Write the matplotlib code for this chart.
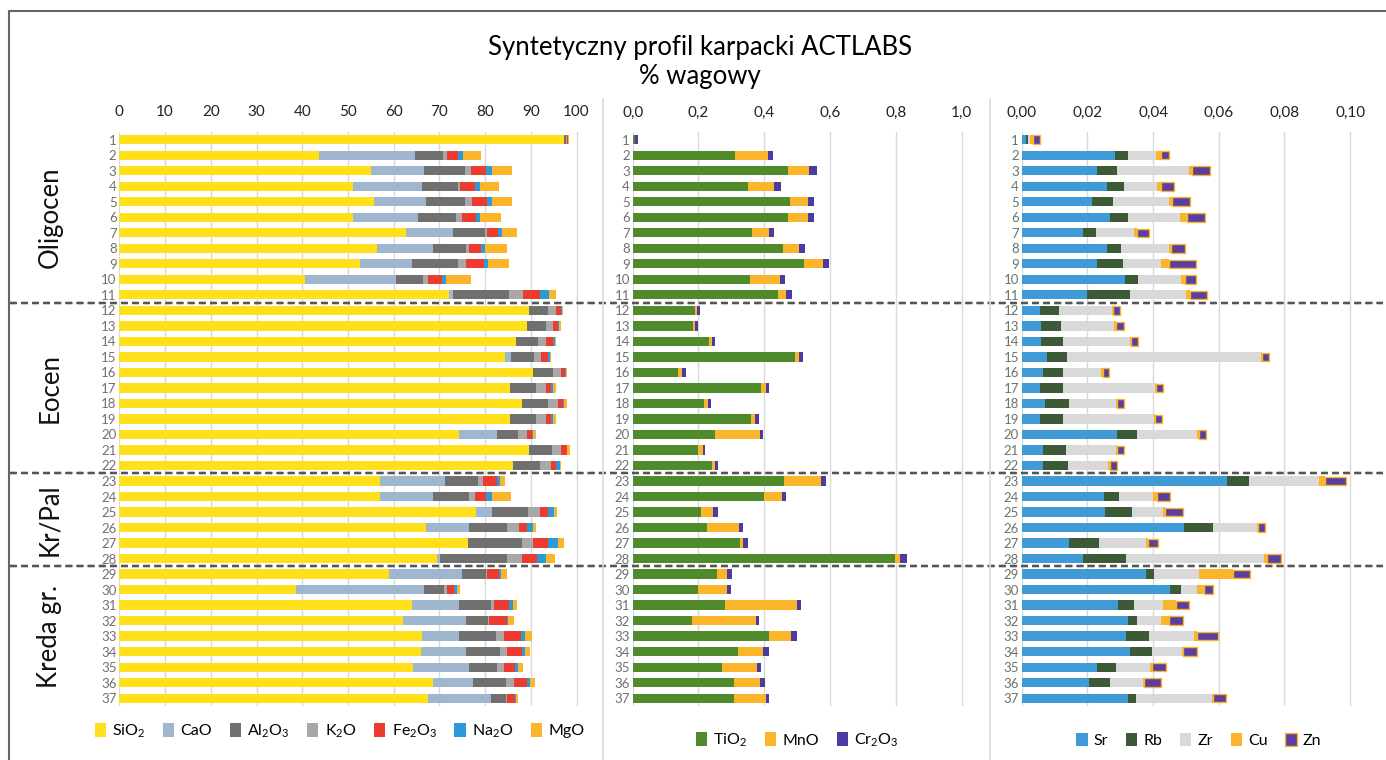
import matplotlib
matplotlib.use("Agg")
import matplotlib.pyplot as plt
import numpy as np
from matplotlib.lines import Line2D
from matplotlib.patches import Patch
from matplotlib.transforms import blended_transform_factory

plt.rcParams["font.family"] = ["Lato", "DejaVu Sans"]
plt.rcParams["mathtext.default"] = "regular"

samples = [str(i) for i in range(1, 38)]

# main oxides, %
SiO2 = [97.2, 43.7, 55.0, 51.2, 55.7, 51.2, 62.8, 56.3, 52.6, 40.7, 72.0, 89.7, 89.2, 86.7, 84.3, 90.5, 85.4, 88.0, 85.4,
        74.2, 89.6, 86.0, 57.0, 57.1, 78.1, 67.1, 76.3, 69.5, 58.9, 38.6, 64.1, 62.1, 66.3, 65.9, 64.3, 68.7, 67.6]
CaO = [0.0, 20.9, 11.7, 15.0, 11.3, 14.2, 10.2, 12.4, 11.3, 19.9, 1.0, 0.0, 0.0, 0.0, 1.3, 0.0, 0.0, 0.0, 0.0,
       8.5, 0.0, 0.0, 14.2, 11.6, 3.3, 9.4, 0.0, 0.6, 16.0, 28.1, 10.2, 13.8, 8.0, 10.0, 12.2, 8.6, 13.6]
Al2O3 = [0.5, 6.2, 9.0, 7.8, 8.7, 8.2, 7.0, 7.1, 10.2, 5.9, 12.3, 4.1, 4.2, 4.8, 5.1, 4.3, 5.8, 5.8, 5.7,
         4.5, 5.1, 6.0, 7.3, 7.8, 8.0, 8.3, 11.7, 14.7, 5.3, 4.3, 6.9, 4.8, 8.1, 7.3, 6.2, 7.2, 3.3]
K2O = [0.2, 0.9, 1.1, 0.6, 1.4, 1.3, 0.3, 0.7, 1.7, 1.1, 2.9, 1.7, 1.5, 1.9, 1.6, 1.7, 2.1, 2.2, 2.2,
       1.9, 2.0, 2.5, 1.1, 1.3, 2.6, 2.7, 2.4, 3.2, 0.3, 0.7, 0.7, 0.2, 1.8, 1.6, 1.5, 1.9, 0.2]
Fe2O3 = [0.3, 2.4, 3.4, 3.1, 3.2, 3.0, 2.6, 2.5, 3.9, 3.0, 3.8, 1.0, 1.1, 1.5, 1.5, 0.9, 1.2, 1.1, 1.2,
         1.2, 1.1, 1.0, 2.9, 2.4, 1.8, 1.7, 3.4, 3.3, 2.6, 1.6, 3.4, 3.9, 3.6, 3.2, 2.3, 2.7, 1.8]
Na2O = [0.0, 1.0, 1.2, 1.2, 1.1, 1.0, 0.8, 1.0, 1.0, 0.8, 1.9, 0.3, 0.2, 0.3, 0.3, 0.2, 0.3, 0.2, 0.3,
        0.2, 0.2, 0.9, 0.7, 1.2, 1.2, 1.2, 2.2, 2.1, 0.4, 0.5, 0.7, 0.3, 0.9, 0.7, 0.7, 0.7, 0.2]
MgO = [0.2, 3.9, 4.5, 4.2, 4.5, 4.5, 3.3, 4.7, 4.6, 5.6, 1.7, 0.3, 0.4, 0.4, 0.2, 0.4, 0.7, 0.7, 0.7,
       0.6, 0.5, 0.3, 1.1, 4.2, 0.8, 0.7, 1.3, 1.9, 1.2, 0.8, 0.9, 1.2, 1.5, 1.1, 1.0, 1.1, 0.5]

# minor oxides, %
TiO2 = [0.006, 0.311, 0.473, 0.352, 0.478, 0.473, 0.362, 0.456, 0.521, 0.357, 0.443, 0.189, 0.182, 0.233, 0.493,
        0.139, 0.390, 0.217, 0.359, 0.250, 0.200, 0.240, 0.460, 0.399, 0.207, 0.225, 0.326, 0.797, 0.257, 0.197,
        0.281, 0.179, 0.415, 0.321, 0.271, 0.308, 0.308]
MnO = [0.002, 0.101, 0.064, 0.079, 0.056, 0.061, 0.052, 0.051, 0.057, 0.091, 0.022, 0.007, 0.007, 0.008, 0.012,
       0.012, 0.014, 0.013, 0.014, 0.137, 0.013, 0.011, 0.111, 0.054, 0.038, 0.098, 0.010, 0.016, 0.031, 0.089,
       0.220, 0.196, 0.067, 0.076, 0.106, 0.079, 0.096]
Cr2O3 = [0.009, 0.016, 0.022, 0.019, 0.017, 0.017, 0.017, 0.017, 0.018, 0.016, 0.018, 0.010, 0.011, 0.009, 0.013,
         0.010, 0.010, 0.008, 0.010, 0.010, 0.008, 0.009, 0.017, 0.013, 0.015, 0.013, 0.013, 0.020, 0.014, 0.013,
         0.012, 0.009, 0.016, 0.016, 0.012, 0.014, 0.010]

# trace elements, %
Sr = [0.0013, 0.0284, 0.0228, 0.0261, 0.0213, 0.0269, 0.0188, 0.0261, 0.0228, 0.0315, 0.0198, 0.0056, 0.0059,
      0.0059, 0.0078, 0.0066, 0.0056, 0.0071, 0.0056, 0.0289, 0.0064, 0.0066, 0.0624, 0.0249, 0.0254, 0.0495,
      0.0145, 0.0186, 0.0379, 0.0452, 0.0294, 0.0325, 0.0318, 0.0330, 0.0228, 0.0206, 0.0325]
Rb = [0.0007, 0.0039, 0.0063, 0.0049, 0.0064, 0.0054, 0.0038, 0.0042, 0.0080, 0.0038, 0.0132, 0.0058, 0.0061,
      0.0066, 0.0059, 0.0059, 0.0069, 0.0074, 0.0069, 0.0061, 0.0071, 0.0076, 0.0068, 0.0048, 0.0081, 0.0086,
      0.0089, 0.0132, 0.0025, 0.0033, 0.0048, 0.0025, 0.0071, 0.0066, 0.0058, 0.0063, 0.0023]
Zr = [0.0005, 0.0086, 0.0217, 0.0101, 0.0170, 0.0159, 0.0116, 0.0146, 0.0116, 0.0132, 0.0171, 0.0160, 0.0162,
      0.0205, 0.0591, 0.0117, 0.0281, 0.0141, 0.0278, 0.0185, 0.0151, 0.0122, 0.0212, 0.0104, 0.0096, 0.0135,
      0.0145, 0.0420, 0.0137, 0.0050, 0.0087, 0.0073, 0.0137, 0.0091, 0.0105, 0.0100, 0.0231]
Cu = [0.0008, 0.0014, 0.0010, 0.0012, 0.0010, 0.0021, 0.0010, 0.0005, 0.0023, 0.0012, 0.0010, 0.0005, 0.0004,
      0.0004, 0.0003, 0.0004, 0.0004, 0.0003, 0.0004, 0.0004, 0.0004, 0.0004, 0.0020, 0.0010, 0.0006, 0.0004,
      0.0004, 0.0010, 0.0102, 0.0021, 0.0041, 0.0026, 0.0007, 0.0005, 0.0005, 0.0004, 0.0005]
Zn = [0.0022, 0.0024, 0.0054, 0.0042, 0.0054, 0.0055, 0.0035, 0.0043, 0.0083, 0.0034, 0.0052, 0.0020, 0.0024,
      0.0020, 0.0021, 0.0020, 0.0021, 0.0023, 0.0021, 0.0021, 0.0022, 0.0021, 0.0064, 0.0041, 0.0053, 0.0021,
      0.0033, 0.0042, 0.0052, 0.0026, 0.0038, 0.0043, 0.0064, 0.0041, 0.0044, 0.0050, 0.0039]

groups = ["Oligocen", "Eocen", "Kr/Pal", "Kreda gr."]
group_bounds = [(1, 11), (12, 22), (23, 28), (29, 37)]

orange = "#fbb52a"
panels = [
    dict(series=[("SiO$_2$", SiO2, "#ffe01a"), ("CaO", CaO, "#9fb6cf"), ("Al$_2$O$_3$", Al2O3, "#707070"),
                 ("K$_2$O", K2O, "#a8a8a8"), ("Fe$_2$O$_3$", Fe2O3, "#ee3b2f"), ("Na$_2$O", Na2O, "#2b9ad6"),
                 ("MgO", MgO, orange)],
         rect=[0.0861, 0.0711, 0.3464, 0.7553], xlim=105, ticks=np.arange(0, 101, 10), fmt="{:.0f}",
         leg=(0.245, 0.038)),
    dict(series=[("TiO$_2$", TiO2, "#4f8a2b"), ("MnO", MnO, orange), ("Cr$_2$O$_3$", Cr2O3, "#4c3ba0")],
         rect=[0.4565, 0.0711, 0.2563, 0.7553], xlim=1.08, ticks=np.arange(0, 1.01, 0.2), fmt="{:.1f}",
         leg=(0.575, 0.026)),
    dict(series=[("Sr", Sr, "#3e9bd6"), ("Rb", Rb, "#3d5a36"), ("Zr", Zr, "#d9d9d9"), ("Cu", Cu, orange),
                 ("Zn", Zn, "#5a3fa0")],
         rect=[0.7372, 0.0711, 0.2582, 0.7553], xlim=0.109, ticks=np.arange(0, 0.101, 0.02), fmt="{:.2f}",
         leg=(0.865, 0.026)),
]

fig = plt.figure(figsize=(13.86, 7.6), dpi=100)

y = np.arange(1, 38)
for p in panels:
    ax = fig.add_axes(p["rect"])
    left = np.zeros(37)
    handles = []
    for name, vals, col in p["series"]:
        if name == "Zn":
            ax.barh(y, vals, left=left, height=0.55, color=col, edgecolor=orange, linewidth=1.0)
            handles.append(Patch(facecolor=col, edgecolor=orange, linewidth=1.0, label=name))
        else:
            ax.barh(y, vals, left=left, height=0.6, color=col, linewidth=0)
            handles.append(Patch(facecolor=col, label=name))
        left += np.array(vals)
    ax.set_ylim(37.5, 0.5)
    ax.set_xlim(0, p["xlim"])
    ax.set_yticks(y)
    ax.set_yticklabels(samples, fontsize=9.5, color="#707070")
    ax.set_xticks(p["ticks"])
    ax.set_xticklabels([p["fmt"].format(t).replace(".", ",") for t in p["ticks"]], fontsize=11, color="#222222")
    ax.xaxis.tick_top()
    ax.tick_params(length=0)
    ax.tick_params(axis="x", pad=9)
    ax.tick_params(axis="y", pad=2)
    ax.grid(axis="x", color="#d9d9d9", linewidth=1)
    ax.set_axisbelow(True)
    for s in ax.spines.values():
        s.set_visible(False)
    fig.legend(handles=handles, loc="center", bbox_to_anchor=p["leg"], ncol=len(handles), frameon=False,
               fontsize=11.5, handlelength=0.7, handleheight=0.9, handletextpad=0.4, columnspacing=1.1)

    # dashed boundaries between stratigraphic groups
    tr = blended_transform_factory(fig.transFigure, ax.transData)
    for b in [11.5, 22.5, 28.5]:
        fig.add_artist(Line2D([0.007, 0.998], [b, b], transform=tr, color="#555555",
                              linestyle=(0, (3, 2)), linewidth=1.6))
    if p is panels[0]:
        for g, (a, b) in zip(groups, group_bounds):
            fig.text(0.036, (a + b) / 2, g, transform=tr, rotation=90, ha="center", va="center", fontsize=18.5,
                     color="#111111")

# frame and panel separators
fig.add_artist(Line2D([0.0065, 0.0065, 1.0], [0.0, 0.985, 0.985], color="#666666", linewidth=1.5))
for xs in [603 / 1386, 990 / 1386]:
    fig.add_artist(Line2D([xs, xs], [0.0, 0.87], color="#dddddd", linewidth=1.2))

fig.text(0.505, 0.937, "Syntetyczny profil karpacki ACTLABS", ha="center", va="center", fontsize=18.5)
fig.text(0.505, 0.899, "% wagowy", ha="center", va="center", fontsize=18.5)

fig.savefig("out.png", dpi=100)
